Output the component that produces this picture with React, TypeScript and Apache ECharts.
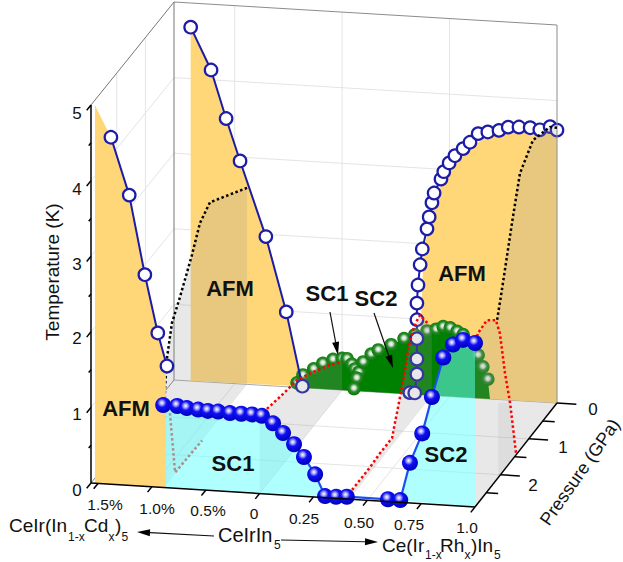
import React, { useEffect, useRef } from "react";
import * as echarts from "echarts";

// x: negative = Cd content in % (CeIr(In1-xCdx)5), positive = Rh fraction (Ce(Ir1-xRhx)In5)
const afmCdBackX = [-1.41, -1.22, -1.08, -0.95, -0.71, -0.52, -0.37];
const afmCdBackT = [4.68, 4.13, 3.5, 2.95, 1.97, 0.99, 0.02];
const afmCdFrontX = [-1.38, -1.21, -1.065, -0.945, -0.86];
const afmCdFrontT = [4.59, 3.84, 2.8, 2.04, 1.61];
const afmRhX = [0.315, 0.338, 0.348, 0.348, 0.348, 0.348, 0.348, 0.353, 0.363, 0.373, 0.395, 0.405, 0.418, 0.428, 0.46, 0.473, 0.498, 0.525, 0.563, 0.595, 0.633, 0.678, 0.73, 0.773, 0.823, 0.875, 0.92, 0.968, 1.0];
const afmRhT = [0.02, 0.02, 0.27, 0.47, 0.74, 0.99, 1.21, 1.45, 1.72, 1.93, 2.2, 2.36, 2.55, 2.68, 2.87, 2.97, 3.09, 3.19, 3.29, 3.38, 3.5, 3.53, 3.56, 3.61, 3.62, 3.62, 3.6, 3.65, 3.61];
const afmRhFillX = [0.353, 0.38, 0.418, 0.455, 0.498, 0.558, 0.628, 0.698, 0.78, 0.875, 1.0];
const afmRhFillT = [0, 1.92, 2.39, 2.75, 2.97, 3.18, 3.38, 3.49, 3.57, 3.6, 3.64];
const greenX = [-0.42, -0.365, -0.265, -0.18, -0.085, 0, 0.023, 0.045, 0.06, 0.078, 0.068, 0.055, 0.098, 0.135, 0.168, 0.228, 0.288, 0.338, 0.395, 0.438, 0.47, 0.503, 0.535, 0.563, 0.595, 0.633, 0.655, 0.678];
const greenT = [0.06, 0.17, 0.26, 0.34, 0.4, 0.42, 0.42, 0.35, 0.29, 0.25, 0.17, 0.03, 0.39, 0.5, 0.56, 0.64, 0.73, 0.79, 0.85, 0.88, 0.92, 0.91, 0.87, 0.83, 0.7, 0.57, 0.42, 0.26];
const scCdX = [-0.895, -0.765, -0.675, -0.57, -0.48, -0.385, -0.275, -0.17, -0.07];
const scCdT = [1.09, 1.09, 1.07, 1.06, 1.05, 1.05, 1.04, 1.04, 1.04];
const sc1RhX = [0.011, 0.0625, 0.109, 0.16, 0.206, 0.258, 0.304, 0.355, 0.405];
const sc1RhT = [1.03, 0.94, 0.82, 0.68, 0.52, 0.3, 0.02, 0.02, 0.03];
const sc2RhX = [0.596, 0.653, 0.698, 0.755, 0.8, 0.853, 0.898, 0.945, 1.0];
const sc2RhT = [0.03, 0.03, 0.53, 0.93, 1.42, 1.95, 2.13, 2.2, 2.17];

const afmSliceP = [0, 1.3, 1.65, 1.93, 2.35, 2.63, 2.8, 2.87, 2.9];
const afmSliceT = [2.6, 3.02, 2.91, 2.62, 2.26, 2.05, 1.68, 1.32, 0.93];
const pinkP = [2.7, 2.52, 1.575];
const pinkT = [0.89, 0.02, 0];
const sc0P = [2.9, 2.18, 1.58, 1.02, 0.42, 0];
const sc0T = [1.03, 0.94, 0.88, 0.72, 0.53, 0.37];
const sc42P = [2.81, 2.18, 1.83, 1.4, 1.33, 1.23, 1.12, 0.95, 0.84, 0.66, 0.52, 0.42, 0.14];
const sc42T = [0.08, 0.08, 0.1, 0.1, 0.21, 0.35, 0.51, 0.76, 1.0, 1.18, 1.24, 1.26, 1.02];
const rh1RedP = [1.45, 1.66, 1.84, 2.02, 2.16, 2.48, 2.79, 2.9];
const rh1RedT = [0.03, 0.79, 1.27, 1.88, 2.12, 2.27, 2.25, 2.17];
const rh1BlackP = [0, 0.25, 0.85, 1.31, 1.59, 1.95, 2.12];
const rh1BlackT = [3.64, 3.77, 3.88, 3.66, 3.14, 2.42, 2.1];
const rh1BandP = [2.08, 1.66, 1.45, 1.45, 2.08];
const rh1BandT = [0.99, 0.79, 0.03, 0, 0];

const tempTicks = [0, 1, 2, 3, 4, 5];
const tempMinor = [0.5, 1.5, 2.5, 3.5, 4.5];
const pressureTicks = [0, 1, 2];
const pressureMinor = [0.5, 1.5, 2.5];
const dopingTicks = [-1.5, -1, -0.5, 0, 0.25, 0.5, 0.75, 1];
const dopingLabels = ["1.5%", "1.0%", "0.5%", "0", "0.25", "0.50", "0.75", "1.0"];

const P_MAX = 2.9;
const S_MIN = -3.13;
const S_MAX = 4;
const sOf = (x: number) => (x < 0 ? 2 * x : 4 * x);
const projS = (s: number, p: number, T: number): number[] => {
  const u = (s - S_MIN) / (S_MAX - S_MIN);
  const v = p / P_MAX;
  const px = (1 - v) * (174 + 383 * u) + v * (91 + 384 * u);
  const base = (1 - v) * (380 + 23 * u) + v * (483 + 24 * u);
  return [px, base - 75.6 * T];
};
const proj = (x: number, p: number, T: number) => projS(sOf(x), p, T);
const zipX = (xs: number[], Ts: number[], p: number) => xs.map((x, i) => proj(x, p, Ts[i]));
const zipP = (x: number, ps: number[], Ts: number[]) => ps.map((p, i) => proj(x, p, Ts[i]));

const FONT = '"Liberation Sans", Arial, sans-serif';
const GOLD = "#ffd678";
const SHEET = "rgba(148,148,148,0.22)";
const CYAN = "rgba(110,255,255,0.55)";
const NAVY = "#1c1ca6";
const BLUE = "#1a50f0";

const blueBall = {
  type: "radial", x: 0.42, y: 0.36, r: 0.62,
  colorStops: [
    { offset: 0, color: "#ffffff" }, { offset: 0.2, color: "#a8a8ff" },
    { offset: 0.45, color: "#1010f4" }, { offset: 1, color: "#0000c0" },
  ],
};
const greenBall = {
  type: "radial", x: 0.5, y: 0.45, r: 0.55,
  colorStops: [
    { offset: 0, color: "#ffffff" }, { offset: 0.28, color: "#c4dcc4" },
    { offset: 0.55, color: "#2a8a2a" }, { offset: 1, color: "#007a00" },
  ],
};

function buildSeries() {
  const out: any[] = [];
  const poly = (pts: number[][], fill: string) =>
    out.push({
      type: "custom", coordinateSystem: "cartesian2d", silent: true, clip: false,
      z: out.length + 1, data: pts,
      renderItem: (params: any, api: any) => {
        if (params.dataIndex !== 0) return null;
        return { type: "polygon", shape: { points: pts.map((d) => api.coord(d)) }, style: { fill } };
      },
    });
  const line = (pts: number[][], color: string, width: number, type: any = "solid") =>
    out.push({
      type: "line", data: pts, symbol: "none", silent: true, clip: false,
      z: out.length + 1, lineStyle: { color, width, type, cap: "butt" },
    });
  const dots = (pts: number[][], size: number, style: any) =>
    out.push({
      type: "scatter", data: pts, symbol: "circle", symbolSize: size, silent: true, clip: false,
      z: out.length + 1, itemStyle: { opacity: 1, ...style },
    });

  // grid
  const GRID = "#e4e4e4";
  [-2, 0, 2].forEach((s) => {
    line([projS(s, 0, 0), projS(s, 0, 5)], GRID, 1);
    line([projS(s, 0, 0), projS(s, P_MAX, 0)], GRID, 1);
  });
  [1, 2].forEach((p) => {
    line([projS(S_MIN, p, 0), projS(S_MIN, p, 5)], GRID, 1);
    line([projS(S_MIN, p, 0), projS(S_MAX, p, 0)], GRID, 1);
  });
  [1, 2, 3, 4].forEach((T) => {
    line([projS(S_MIN, P_MAX, T), projS(S_MIN, 0, T), projS(S_MAX, 0, T)], GRID, 1);
  });
  // frame
  line([projS(S_MIN, P_MAX, 5), projS(S_MIN, 0, 5)], "#777777", 1);
  line([projS(S_MIN, 0, 5), projS(S_MAX, 0, 5)], "#8c8c8c", 1);
  line([projS(S_MIN, 0, 5), projS(S_MIN, 0, 0)], "#777777", 1);
  line([projS(S_MIN, 0, 0), projS(S_MAX, 0, 0)], "#a8a8a8", 1);
  line([projS(S_MIN, P_MAX, 0), projS(S_MIN, 0, 0)], "#808080", 1);

  // back wall, p = 0
  const cdBack = zipX(afmCdBackX, afmCdBackT, 0);
  poly([proj(afmCdBackX[0], 0, 0), ...cdBack], GOLD);
  poly([...zipX(afmRhFillX, afmRhFillT, 0), proj(1, 0, 0)], GOLD);
  const green = zipX(greenX, greenT, 0);
  poly([proj(-0.45, 0, 0), ...green, proj(0.688, 0, 0)], "#008000");
  line(zipX(afmRhX, afmRhT, 0), NAVY, 2);
  dots(green, 13.5, { color: greenBall });
  line(cdBack, NAVY, 2);
  const circle = { color: "#ffffff", borderColor: NAVY, borderWidth: 2.2 };
  dots(cdBack, 12.5, circle);
  dots(zipX(afmRhX, afmRhT, 0), 12.5, circle);
  line([projS(S_MAX, 0, 5), projS(S_MAX, 0, 0)], "#8c8c8c", 1);

  // p-T slices
  poly([proj(-0.885, P_MAX, 0), ...zipP(-0.885, afmSliceP, afmSliceT).reverse(), proj(-0.885, 0, 0)], SHEET);
  poly([proj(0, P_MAX, 0), ...zipP(0, sc0P, sc0T), proj(0, 0, 0)], SHEET);
  poly([proj(0.4175, sc42P[0], 0), ...zipP(0.4175, sc42P, sc42T), proj(0.4175, 0, 0.9), proj(0.4175, 0, 0)], SHEET);
  poly([
    proj(1, P_MAX, 0),
    proj(1, P_MAX, rh1RedT[7]), proj(1, rh1RedP[6], rh1RedT[6]), proj(1, rh1RedP[5], rh1RedT[5]), proj(1, rh1RedP[4], rh1RedT[4]),
    ...zipP(1, rh1BlackP, rh1BlackT).reverse(),
    proj(1, 0, 0),
  ], SHEET);
  poly(zipP(1, rh1BandP, rh1BandT), "rgba(148,148,148,0.12)");
  const DOT = [2.5, 2.5];
  line(zipP(-0.885, afmSliceP, afmSliceT), "#000000", 2.5, DOT);
  line(zipP(-0.885, pinkP, pinkT), "#ff0000", 2.5, DOT);
  line(zipP(0, sc0P, sc0T), "#ff0000", 2.5, DOT);
  line(zipP(0.4175, sc42P, sc42T), "#ff0000", 2.5, DOT);
  line(zipP(1, rh1RedP, rh1RedT), "#ff0000", 2.5, DOT);
  line(zipP(1, rh1BlackP, rh1BlackT), "#000000", 2.5, DOT);

  // front wall
  const pf = P_MAX;
  const cdFront = zipX(afmCdFrontX, afmCdFrontT, pf);
  poly([proj(-1.528, pf, 0), proj(-1.528, pf, 5), ...cdFront, proj(-0.87, pf, 1.6), proj(-0.87, pf, 0)], GOLD);
  const scAll = [...zipX(scCdX, scCdT, pf), ...zipX(sc1RhX, sc1RhT, pf)];
  poly([proj(-0.87, pf, 0), proj(-0.87, pf, 1.09), ...scAll.slice(1), proj(sc1RhX[6], pf, 0)], CYAN);
  const sc2 = zipX(sc2RhX, sc2RhT, pf);
  poly([...sc2, proj(1, pf, 0)], CYAN);
  line(cdFront, NAVY, 2);
  dots(cdFront, 12.5, circle);
  line([...zipX(sc1RhX, sc1RhT, pf), ...sc2], BLUE, 2.2);
  dots(scAll, 16, { color: blueBall });
  dots(sc2, 16, { color: blueBall });

  // axes
  const axis = (pts: number[][]) => line(pts, "#000000", 1.5);
  axis([projS(S_MIN, P_MAX, 0), projS(S_MIN, P_MAX, 5)]);
  axis([projS(S_MIN, P_MAX, 0), projS(S_MAX, P_MAX, 0)]);
  axis([projS(S_MAX, 0, 0), projS(S_MAX, P_MAX, 0)]);
  tempTicks.forEach((T) => axis([projS(S_MIN, P_MAX, T), projS(S_MIN, P_MAX + 0.15, T)]));
  tempMinor.forEach((T) => axis([projS(S_MIN, P_MAX, T), projS(S_MIN, P_MAX + 0.08, T)]));
  dopingTicks.forEach((x) => axis([proj(x, P_MAX, 0), proj(x, P_MAX + 0.15, 0)]));
  pressureTicks.forEach((p) => axis([projS(S_MAX, p, 0), projS(S_MAX + 0.36, p, 0)]));
  pressureMinor.forEach((p) => axis([projS(S_MAX, p, 0), projS(S_MAX + 0.22, p, 0)]));
  return out;
}

const T = (text: string, x: number, y: number, size: number, extra: any = {}) => ({
  type: "text", x, y, z: 200, rotation: extra.rotation || 0, silent: true,
  style: {
    text, fontFamily: FONT, fontSize: size, fontWeight: extra.bold ? "bold" : "normal",
    fill: "#111111", align: extra.align || "center", verticalAlign: "middle",
  },
});
const arrow = (x1: number, y1: number, x2: number, y2: number, head: number, w: number) => {
  const a = Math.atan2(y2 - y1, x2 - x1);
  const bx = x2 - Math.cos(a) * head;
  const by = y2 - Math.sin(a) * head;
  const nx = -Math.sin(a) * w;
  const ny = Math.cos(a) * w;
  return [
    { type: "line", z: 190, silent: true, shape: { x1, y1, x2: bx, y2: by }, style: { stroke: "#111111", lineWidth: 1.2 } },
    { type: "polygon", z: 190, silent: true, shape: { points: [[x2, y2], [bx + nx, by + ny], [bx - nx, by - ny]] }, style: { fill: "#000000" } },
  ];
};

const dopingLabelPos = [[105, 504], [157, 508], [208, 510], [254, 513], [304, 518], [359, 522], [409, 524], [467, 527]];
const tempLabelY = [490, 414, 338, 264, 189, 113];
const pressureLabelPos = [[593, 409], [563, 447], [533, 485]];

function buildGraphics() {
  const g: any[] = [];
  tempTicks.forEach((t, i) => g.push(T(String(t), 77, tempLabelY[i], 17)));
  dopingLabels.forEach((l, i) => g.push(T(l, dopingLabelPos[i][0], dopingLabelPos[i][1], 15.5)));
  pressureTicks.forEach((p, i) => g.push(T(String(p), pressureLabelPos[i][0], pressureLabelPos[i][1], 17)));
  g.push(T("Temperature (K)", 52, 272, 19, { rotation: Math.PI / 2 }));
  g.push(T("Pressure (GPa)", 580, 472, 18, { rotation: (55 * Math.PI) / 180 }));
  g.push(T("AFM", 126, 408, 22, { bold: true }));
  g.push(T("AFM", 230, 288, 22, { bold: true }));
  g.push(T("AFM", 462, 273, 22, { bold: true }));
  g.push(T("SC1", 233, 463, 22, { bold: true }));
  g.push(T("SC2", 446, 454, 22, { bold: true }));
  g.push(T("SC1", 327, 293, 22, { bold: true }));
  g.push(T("SC2", 376, 298, 22, { bold: true }));
  g.push(...arrow(330, 312, 338, 355, 13, 3.5));
  g.push(...arrow(374, 313, 393, 368, 13, 3.5));
  const left = { align: "left" };
  g.push(T("CeIr(In", 9, 525, 19, left), T("1-x", 68, 537, 12, left), T("Cd", 84, 525, 19, left), T("x", 108.5, 537, 12, left), T(")", 115, 525, 19, left), T("5", 121.5, 537, 12, left));
  g.push(T("CeIrIn", 218, 535, 20, left), T("5", 274, 545, 12, left));
  g.push(T("Ce(Ir", 382, 545, 19, left), T("1-x", 425, 555, 12, left), T("Rh", 440, 545, 19, left), T("x", 464.5, 555, 12, left), T(")In", 471, 545, 19, left), T("5", 494, 555, 12, left));
  g.push(...arrow(214, 536, 137, 532, 13, 3.5));
  g.push(...arrow(281, 540, 378, 542, 13, 3.5));
  return g;
}

export default function App() {
  const ref = useRef<HTMLDivElement>(null);
  useEffect(() => {
    const chart = echarts.init(ref.current!, null, { renderer: "svg" });
    chart.setOption({
      animation: false,
      backgroundColor: "#ffffff",
      grid: { left: 0, right: 0, top: 0, bottom: 0 },
      xAxis: { type: "value", min: 0, max: 623, show: false },
      yAxis: { type: "value", min: 0, max: 562, inverse: true, show: false },
      tooltip: { show: false },
      series: buildSeries(),
      graphic: { elements: buildGraphics() },
    });
    return () => chart.dispose();
  }, []);
  return <div ref={ref} style={{ position: "absolute", left: 0, top: 0, width: 623, height: 562 }} />;
}
